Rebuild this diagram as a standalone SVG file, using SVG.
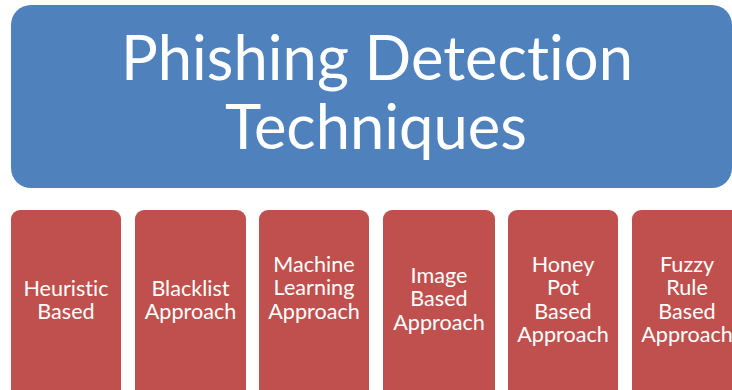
<svg xmlns="http://www.w3.org/2000/svg" width="732" height="390" viewBox="0 0 732 390">
<style>
text{font-variant-ligatures:none;font-family:Lato,"Open Sans",sans-serif;fill:#fff;text-anchor:middle}
.title{font-size:61.5px}
.lbl{font-size:21.6px}
.red{fill:#C0504D}
</style>
<rect width="732" height="390" fill="#fff"/>
<g id="root">
<rect x="11" y="5" width="721" height="183" rx="20" fill="#4F81BD"/>
<text class="title" x="377" y="80">Phishing Detection</text>
<text class="title" x="376" y="149">Techniques</text>
</g>
<g id="connectors"></g>
<g id="n1"><rect class="red" x="11" y="210" width="110" height="190" rx="9"/>
<text class="lbl" x="66" y="296">Heuristic</text><text class="lbl" x="66" y="319">Based</text></g>
<g id="n2"><rect class="red" x="135" y="210" width="111" height="190" rx="9"/>
<text class="lbl" x="190.5" y="296">Blacklist</text><text class="lbl" x="190.5" y="319">Approach</text></g>
<g id="n3"><rect class="red" x="259" y="210" width="110" height="190" rx="9"/>
<text class="lbl" x="314" y="272">Machine</text><text class="lbl" x="314" y="295">Learning</text><text class="lbl" x="314" y="319">Approach</text></g>
<g id="n4"><rect class="red" x="383" y="210" width="112" height="190" rx="9"/>
<text class="lbl" x="439" y="283">Image</text><text class="lbl" x="439" y="306">Based</text><text class="lbl" x="439" y="330">Approach</text></g>
<g id="n5"><rect class="red" x="508" y="210" width="110" height="190" rx="9"/>
<text class="lbl" x="563" y="272">Honey</text><text class="lbl" x="563" y="295">Pot</text><text class="lbl" x="563" y="319">Based</text><text class="lbl" x="563" y="342">Approach</text></g>
<g id="n6"><rect class="red" x="632" y="210" width="110" height="190" rx="9"/>
<text class="lbl" x="687" y="272">Fuzzy</text><text class="lbl" x="687" y="295">Rule</text><text class="lbl" x="687" y="319">Based</text><text class="lbl" x="687" y="342">Approach</text></g>
</svg>
